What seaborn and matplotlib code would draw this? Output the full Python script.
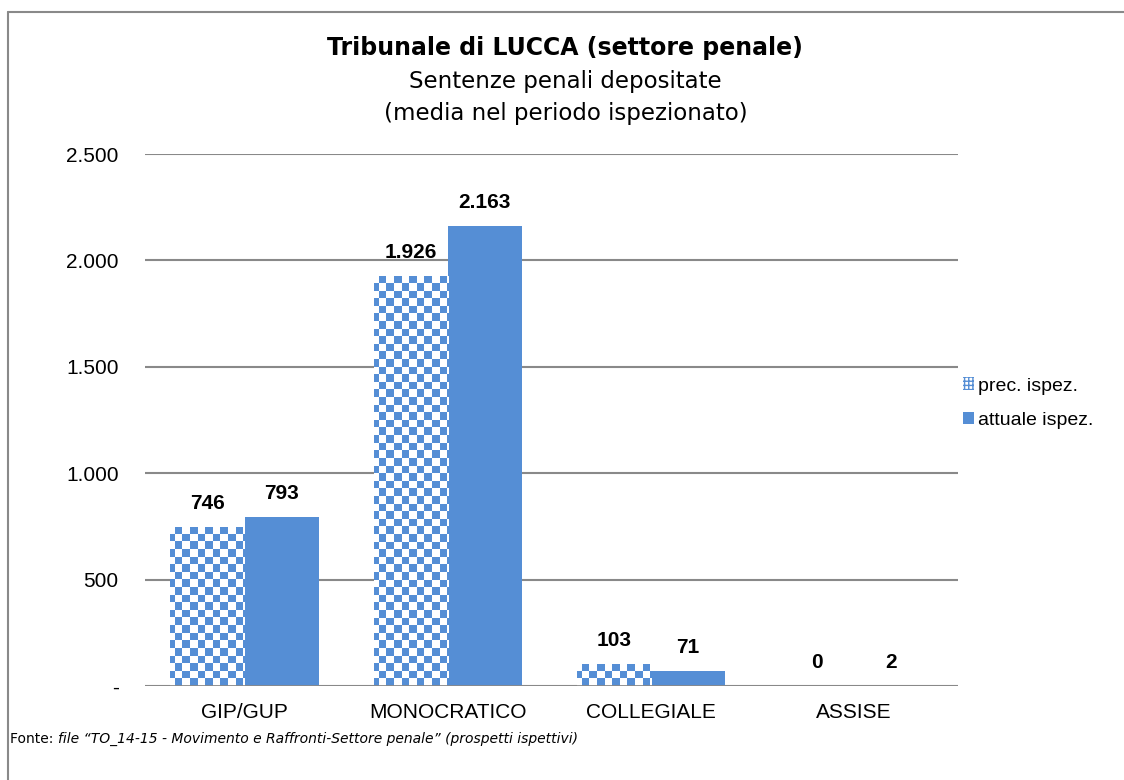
import numpy as np
import pandas as pd
import matplotlib
matplotlib.use('Agg')
import matplotlib.pyplot as plt
import seaborn as sns
from matplotlib.patches import Patch
from matplotlib.lines import Line2D

# dati
uffici = ['GIP/GUP', 'MONOCRATICO', 'COLLEGIALE', 'ASSISE']
prec_ispez = [746, 1926, 103, 0]
attuale_ispez = [793, 2163, 71, 2]
serie = ['prec. ispez.', 'attuale ispez.']
yticks = [0, 500, 1000, 1500, 2000, 2500]

blu = '#558ed5'
grigio = '#898989'

df = pd.DataFrame({
    'ufficio': uffici * 2,
    'valore': prec_ispez + attuale_ispez,
    'periodo': [serie[0]] * len(uffici) + [serie[1]] * len(uffici),
})

def it_fmt(v):
    return f'{v:,}'.replace(',', '.')

sns.set_style('white')
plt.rcParams['font.family'] = ['Liberation Sans', 'DejaVu Sans']
plt.rcParams['text.color'] = 'black'
plt.rcParams['xtick.color'] = 'black'
plt.rcParams['ytick.color'] = 'black'

fig = plt.figure(figsize=(11.24, 7.8), dpi=100)
ax = fig.add_axes([0.129, 0.1205, 0.723, 0.682])

sns.barplot(data=df, x='ufficio', y='valore', hue='periodo', palette=[blu, blu],
            width=0.73, saturation=1, legend=False, linewidth=0, ax=ax)

xlim = (-0.49, 3.51)
ax.set_ylim(0, 2500)
ax.set_xlim(*xlim)
ax.set_yticks(yticks)
ax.set_yticklabels(['-' if t == 0 else it_fmt(t) for t in yticks], fontsize=15)
ax.tick_params(axis='y', length=0, pad=19)
ax.tick_params(axis='x', length=0, pad=12, labelsize=15)
ax.set_xlabel('')
ax.set_ylabel('')
for s in ax.spines.values():
    s.set_visible(False)
ax.yaxis.grid(True, color=grigio, linewidth=1.5)
ax.set_axisbelow(True)
ax.axhline(0, color=grigio, linewidth=2, zorder=5)

# motivo a scacchi per la serie precedente
fig.canvas.draw()
bb = ax.get_window_extent()
cell = 7.5
nx = int(bb.width / cell)
ny = int(bb.height / cell)
chk = (np.indices((ny, nx)).sum(axis=0) % 2).astype(float)
rgb_blu = np.array(matplotlib.colors.to_rgb(blu))
img = np.ones((ny, nx, 3))
img[chk == 1] = rgb_blu
for bar in ax.containers[0]:
    bar.set_facecolor('white')
    im = ax.imshow(img, extent=[0, 1, 0, 1], transform=ax.transAxes,
                   interpolation='nearest', aspect='auto', zorder=bar.get_zorder() + 0.1)
    im.set_clip_path(bar)
ax.set_xlim(*xlim)
ax.set_ylim(0, 2500)

for cont in ax.containers:
    ax.bar_label(cont, labels=[it_fmt(int(v)) for v in cont.datavalues],
                 padding=10, fontsize=15, fontweight='bold')

handles = [Patch(facecolor='white', edgecolor=blu, hatch='++++', linewidth=0),
           Patch(facecolor=blu, edgecolor='none')]
fig.legend(handles, serie, loc='center left', bbox_to_anchor=(0.841, 0.483),
           frameon=False, fontsize=14, handlelength=0.6, handleheight=0.6,
           handletextpad=0.2, labelspacing=0.9)

fig.text(0.503, 0.939, 'Tribunale di LUCCA (settore penale)', ha='center', va='center',
         fontsize=17, fontweight='bold', family='DejaVu Sans')
fig.text(0.503, 0.875, 'Sentenze penali depositate\n(media nel periodo ispezionato)',
         ha='center', va='center', fontsize=16.5, family='DejaVu Sans', linespacing=1.5)

t1 = fig.text(0.009, 0.048, 'Fonte: ', ha='left', va='baseline', fontsize=10,
              family='DejaVu Sans')
ax.annotate('file \u201cTO_14-15 - Movimento e Raffronti-Settore penale\u201d (prospetti ispettivi)',
            xy=(1, 0), xycoords=t1, va='bottom', ha='left', fontsize=10,
            family='DejaVu Sans', style='italic', annotation_clip=False)

# cornice esterna
fig.add_artist(Line2D([0.0075, 0.0075], [0, 0.985], color=grigio, linewidth=1.5,
                      transform=fig.transFigure))
fig.add_artist(Line2D([0.0075, 1], [0.985, 0.985], color=grigio, linewidth=1.5,
                      transform=fig.transFigure))

fig.savefig('out.png', dpi=100)
